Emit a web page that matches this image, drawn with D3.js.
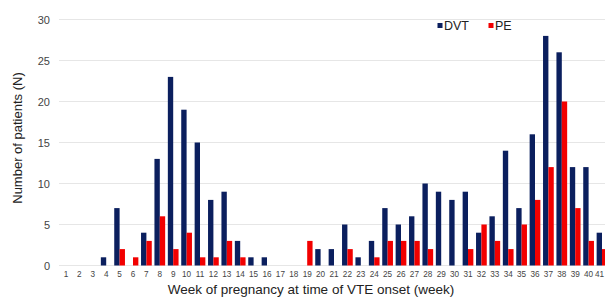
<!DOCTYPE html>
<html>
<head>
<meta charset="utf-8">
<script src="https://cdn.jsdelivr.net/npm/d3@7"></script>
<style>
body { margin: 0; background: #fff; }
svg { display: block; font-family: "Liberation Sans", Arial, sans-serif; }
.tick text { fill: #444; }
</style>
</head>
<body>
<div id="chart"></div>
<script>
const w = 605;
const h = 299;

// data
const weeks = d3.range(1, 42).map(String);
const dvt = [0,0,0,1,7,0,4,13,23,19,15,8,9,3,1,1,0,0,0,2,2,5,1,3,7,5,6,10,9,8,9,4,6,14,7,16,28,26,12,12,4];
const pe  = [0,0,0,0,2,1,3,6,2,4,1,1,3,1,0,0,0,0,3,0,0,2,0,1,3,3,3,2,0,0,2,5,3,2,5,8,12,20,7,3,2];
const series = ['DVT', 'PE'];
const yTicks = [0,5,10,15,20,25,30];
const colors = {DVT: '#0b1f5e', PE: '#f20000'};

const svg = d3.select('#chart').append('svg')
  .attr('width', w).attr('height', h);

// x scale runs a little past the right edge, like the cropped original
const x = d3.scaleBand().domain(weeks).range([59.3, 608.7]).paddingInner(0.2).paddingOuter(0.1);
const xSub = d3.scaleBand().domain(series).range([0, x.bandwidth()]);
const y = d3.scaleLinear().domain([0, 30]).range([265.5, 19.5]);

//Gridlines
svg.append('g')
  .selectAll('line')
  .data(yTicks)
  .enter().append('line')
  .attr('x1', 59).attr('x2', w)
  .attr('y1', d => y(d)).attr('y2', d => y(d))
  .attr('stroke', '#e6e6e6').attr('stroke-width', 1);

//y axis
const yAxis = d3.axisLeft(y).tickValues(yTicks).tickSize(0).tickPadding(9);
svg.append('g')
  .attr('transform', 'translate(59,0)')
  .call(yAxis)
  .call(g => g.select('.domain').remove())
  .selectAll('text').attr('font-size', 11).attr('font-family', null);

//x axis
const xAxis = d3.axisBottom(x).tickSize(0).tickPadding(6);
svg.append('g')
  .attr('transform', `translate(0,${y(0)})`)
  .call(xAxis)
  .call(g => g.select('.domain').remove())
  .selectAll('text').attr('font-size', 8.2).attr('font-family', null)
  // last label sits against the edge, keep it inside
  .attr('dx', d => d === '41' ? -2.5 : 0);

//Bars
const rows = weeks.map((wk, i) => ({week: wk, DVT: dvt[i], PE: pe[i]}));
const groups = svg.append('g')
  .selectAll('g')
  .data(rows)
  .enter().append('g')
  .attr('transform', d => `translate(${x(d.week)},0)`);
groups.selectAll('rect')
  .data(d => series.map(s => ({key: s, value: d[s]})))
  .enter().append('rect')
  .attr('x', d => xSub(d.key))
  .attr('width', xSub.bandwidth())
  .attr('y', d => y(d.value))
  .attr('height', d => y(0) - y(d.value))
  .attr('fill', d => colors[d.key]);

//Legend
const legend = svg.append('g').attr('id', 'legend');
const legX = [437.5, 488.5];
series.forEach((s, i) => {
  legend.append('rect')
    .attr('x', legX[i]).attr('y', 23).attr('width', 5).attr('height', 5)
    .attr('fill', colors[s]);
  legend.append('text')
    .attr('x', legX[i] + 6.5).attr('y', 30)
    .attr('font-size', 12.5).attr('fill', '#222')
    .text(s);
});

//Labels
svg.append('text')
  .attr('transform', 'translate(22,138) rotate(-90)')
  .attr('text-anchor', 'middle')
  .attr('font-size', 13).attr('fill', '#222')
  .text('Number of patients (N)');
svg.append('text')
  .attr('x', 311).attr('y', 294)
  .attr('text-anchor', 'middle')
  .attr('font-size', 13.5).attr('fill', '#222')
  .text('Week of pregnancy at time of VTE onset (week)');
</script>
</body>
</html>
